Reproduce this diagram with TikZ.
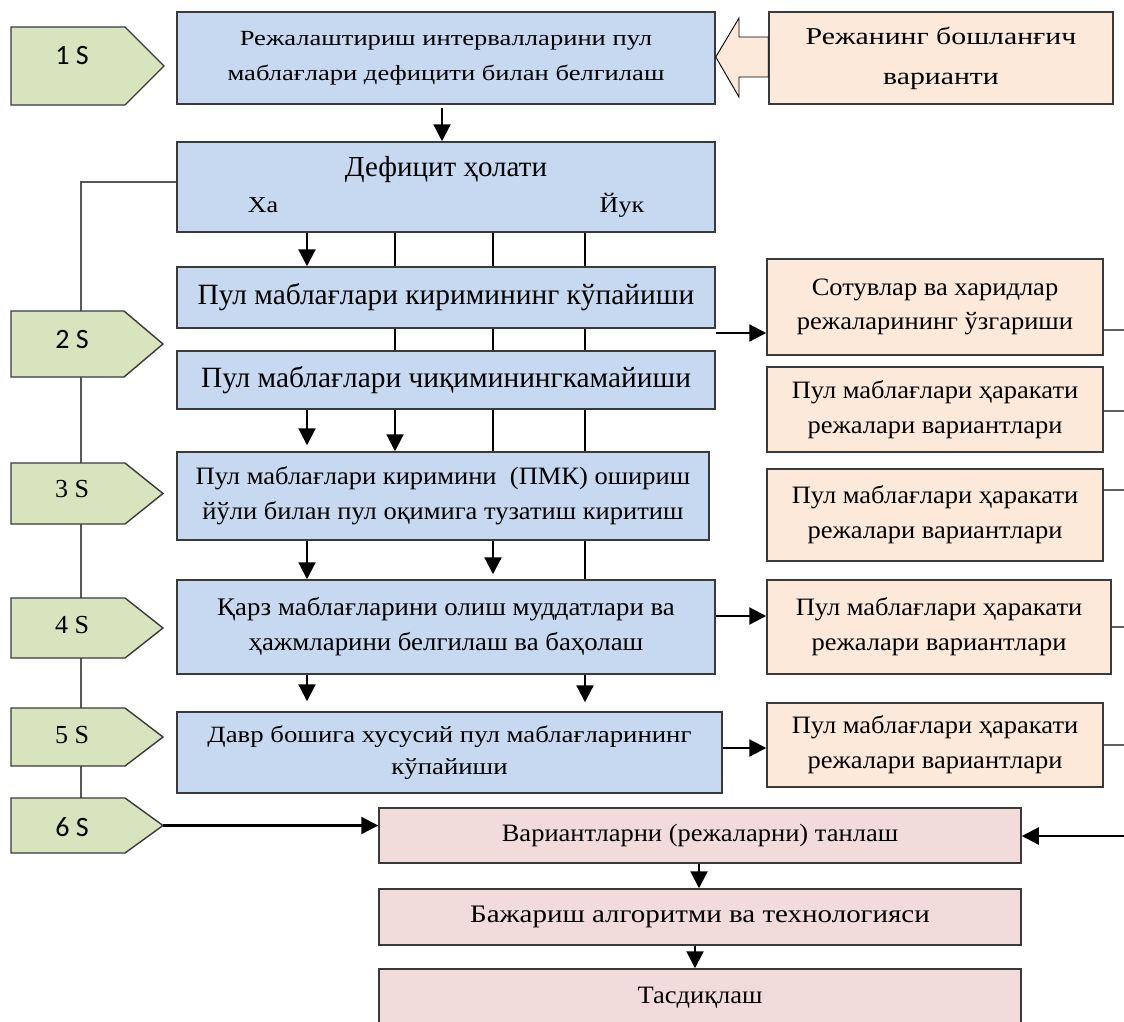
\documentclass[tikz,border=0pt]{standalone}
\usepackage{fontspec}
\setmainfont{Liberation Serif}
\newfontfamily\calib{Carlito}
\newfontfamily\timesf{Liberation Serif}
\newfontfamily\fA[FakeStretch=1.06]{Liberation Serif}
\newfontfamily\fB[FakeStretch=1.15]{Liberation Serif}
\newfontfamily\fC[FakeStretch=1.23]{Liberation Serif}
\usetikzlibrary{arrows.meta,backgrounds}
\definecolor{bblue}{HTML}{C6D9F1}
\definecolor{sgreen}{HTML}{D7E4BD}
\definecolor{peach}{HTML}{FDE9D9}
\definecolor{pinkb}{HTML}{F2DCDB}
\definecolor{edge}{HTML}{3A3A3A}
\newcommand\myfs[2]{\fontsize{#1pt}{#2pt}\selectfont}
\newcommand\stagebox[8]{%
  \path[stage] (11,#2) -- (#4,#2) -- (#5,{(#2+#3)/2}) -- (#4,#3) -- (11,#3) -- cycle;
  \node[stagelbl,font=#8] (#1) at (72,#7) {#6};
  \coordinate (#1tip) at (#5,{(#2+#3)/2});}
\begin{document}
\begin{tikzpicture}[x=1pt,y=-1pt,
  box/.style={draw=edge,line width=1.5pt,inner sep=0pt,align=center,anchor=center},
  blue/.style={box,fill=bblue},
  peachbox/.style={box,fill=peach},
  pinkbox/.style={box,fill=pinkb},
  stage/.style={draw=edge,line width=1.4pt,fill=sgreen},
  stagelbl/.style={inner sep=0pt,anchor=center},
  lbl/.style={inner sep=0pt,anchor=center,align=center},
  arr/.style={line width=2.2pt,-{Triangle[length=17pt,width=17pt]}},
  conn/.style={line width=2.2pt},
  loop/.style={draw=edge!85,line width=1.4pt},
  stub/.style={draw=edge!80,line width=1.1pt}]
\useasboundingbox (0,0) rectangle (1124,1021);
\begin{scope}
\clip (0,0) rectangle (1124,1021);
\coordinate (lp1) at (81,182);
\coordinate (lp2) at (81,798);
% stages
\stagebox{s1}{27}{105}{125}{164}{1 S}{56}{\calib\myfs{28}{30}}
\stagebox{s2}{311}{377}{124}{163}{2 S}{340}{\calib\myfs{28}{30}}
\stagebox{s3}{463}{524}{125}{163}{3 S}{489}{\timesf\myfs{26}{30}}
\stagebox{s4}{598}{658}{125}{163}{4 S}{625}{\timesf\myfs{26}{30}}
\stagebox{s5}{708}{766}{125}{163}{5 S}{735}{\timesf\myfs{26}{30}}
\stagebox{s6}{798}{853}{125}{163}{6 S}{827}{\calib\myfs{28}{30}}

% column coordinates
\coordinate (xa) at (307,0);
\coordinate (xb) at (395,0);
\coordinate (xc) at (493,0);
\coordinate (xd) at (585,0);

% main column boxes
\node[blue,minimum width=538pt,minimum height=92pt,font=\fC\myfs{21.6}{35}] (top) at (446,58)
  {Режалаштириш интервалларини пул\\маблағлари дефицити билан белгилаш};
\node[peachbox,minimum width=344pt,minimum height=92pt,font=\fC\myfs{24.2}{40}] (init) at (941,58)
  {Режанинг бошланғич\\варианти};
\node[blue,minimum width=538pt,minimum height=90pt] (def) at (446,187) {};
\begin{scope}[on background layer]
  \draw[loop] (def.west |- lp1) -- (lp1) -- (lp2);
\end{scope}
\node[lbl,font=\timesf\myfs{29}{30}] (deft) at (446,170) {Дефицит ҳолати};
\node[lbl,font=\fB\myfs{22.7}{30}] (ha) at (263,205) {Ха};
\node[lbl,font=\fB\myfs{22.7}{30}] (yuk) at (622,205) {Йук};
\node[blue,minimum width=538pt,minimum height=61pt,font=\timesf\myfs{29.4}{30}] (b2) at (446,297.5)
  {Пул маблағлари киримининг кўпайиши};
\node[blue,minimum width=538pt,minimum height=58pt,font=\timesf\myfs{29.4}{30}] (b2b) at (446,380)
  {Пул маблағлари чиқиминингкамайиши};
\node[blue,minimum width=532pt,minimum height=88pt,font=\fA\myfs{25}{35}] (b3) at (443,496)
  {Пул маблағлари киримини\ \ (ПМК) ошириш\\йўли билан пул оқимига тузатиш киритиш};
\node[blue,minimum width=538pt,minimum height=94pt,font=\fA\myfs{25.3}{35}] (b4) at (446,627)
  {Қарз маблағларини олиш муддатлари ва\\ҳажмларини белгилаш ва баҳолаш};
\node[blue,minimum width=545pt,minimum height=81pt,font=\fB\myfs{23.3}{32}] (b5) at (449.5,752.5)
  {Давр бошига хусусий пул маблағларининг\\кўпайиши};
\node[pinkbox,minimum width=642pt,minimum height=55pt,font=\fA\myfs{25}{30}] (sel) at (700,835.5)
  {Вариантларни (режаларни) танлаш};
\node[pinkbox,minimum width=642pt,minimum height=56pt,font=\fB\myfs{25.2}{30}] (baj) at (700,917)
  {Бажариш алгоритми ва технологияси};
\node[pinkbox,minimum width=642pt,minimum height=58pt,font=\fA\myfs{25}{30}] (tas) at (700,998)
  {Тасдиқлаш};

% right column
\node[peachbox,minimum width=336pt,minimum height=96pt,font=\fA\myfs{25}{34}] (r1) at (935,307)
  {Сотувлар ва харидлар\\режаларининг ўзгариши};
\node[peachbox,minimum width=336pt,minimum height=85pt,font=\fA\myfs{25}{35}] (r2) at (935,409.5)
  {Пул маблағлари ҳаракати\\режалари вариантлари};
\node[peachbox,minimum width=336pt,minimum height=92pt,font=\fA\myfs{25}{35}] (r3) at (935,515)
  {Пул маблағлари ҳаракати\\режалари вариантлари};
\node[peachbox,minimum width=344pt,minimum height=94pt,font=\fA\myfs{25}{35}] (r4) at (939,627)
  {Пул маблағлари ҳаракати\\режалари вариантлари};
\node[peachbox,minimum width=336pt,minimum height=84pt,font=\fA\myfs{25}{35}] (r5) at (935,745)
  {Пул маблағлари ҳаракати\\режалари вариантлари};

% hollow block arrow from initial variant to top box
\draw[draw=black,line width=0.9pt,fill=peach]
  (top.east |- 0,57) -- (739,18) -- (739,37) -- (init.west |- 0,37)
  -- (init.west |- 0,77) -- (739,77) -- (739,97) -- cycle;

% vertical connectors
\coordinate (t1) at (442,108);
\draw[arr] (t1) -- (def.north -| t1);
\draw[arr] (def.south -| xa) -- (b2.north -| xa);
\foreach \c in {xb,xc,xd} {
  \draw[conn] (def.south -| \c) -- (b2.north -| \c);
  \draw[conn] (b2.south -| \c) -- (b2b.north -| \c);
}
\draw[arr] (b2b.south -| xa) -- ([yshift=6pt]b3.north -| xa);
\draw[arr] (b2b.south -| xb) -- (b3.north -| xb);
\draw[conn] (b2b.south -| xc) -- (b3.north -| xc);
\draw[conn] (b2b.south -| xd) -- (b3.north -| xd);
\draw[arr] (b3.south -| xa) -- (b4.north -| xa);
\draw[arr] (b3.south -| xc) -- ([yshift=5pt]b4.north -| xc);
\draw[conn] (b3.south -| xd) -- (b4.north -| xd);
\draw[arr] (b4.south -| xa) -- ([yshift=10pt]b5.north -| xa);
\draw[arr] (b4.south -| xd) -- ([yshift=9pt]b5.north -| xd);
\coordinate (xs) at (699,0);
\coordinate (xt) at (695,0);
\draw[arr] (sel.south -| xs) -- (baj.north -| xs);
\draw[arr] (baj.south -| xt) -- (tas.north -| xt);

% horizontal connectors
\coordinate (h1) at (0,333);
\coordinate (h4) at (0,616);
\coordinate (h5) at (0,748);
\draw[arr] (b2.east |- h1) -- (r1.west |- h1);
\draw[arr] (b4.east |- h4) -- (r4.west |- h4);
\draw[arr] (b5.east |- h5) -- (r5.west |- h5);
\draw[arr] (s6tip) -- (sel.west |- s6tip);
\coordinate (e6) at (1124,836);
\draw[arr] (e6) -- (sel.east |- e6);

% right stubs leaving the picture
\coordinate (e1) at (1124,330);
\coordinate (e2) at (1124,411);
\coordinate (e3) at (1124,490);
\coordinate (e4) at (1124,627);
\coordinate (e5) at (1124,745);
\draw[stub] (r1.east |- e1) -- (e1);
\draw[stub] (r2.east |- e2) -- (e2);
\draw[stub] (r3.east |- e3) -- (e3);
\draw[stub] (r4.east |- e4) -- (e4);
\draw[stub] (r5.east |- e5) -- (e5);
\end{scope}
\end{tikzpicture}
\end{document}
